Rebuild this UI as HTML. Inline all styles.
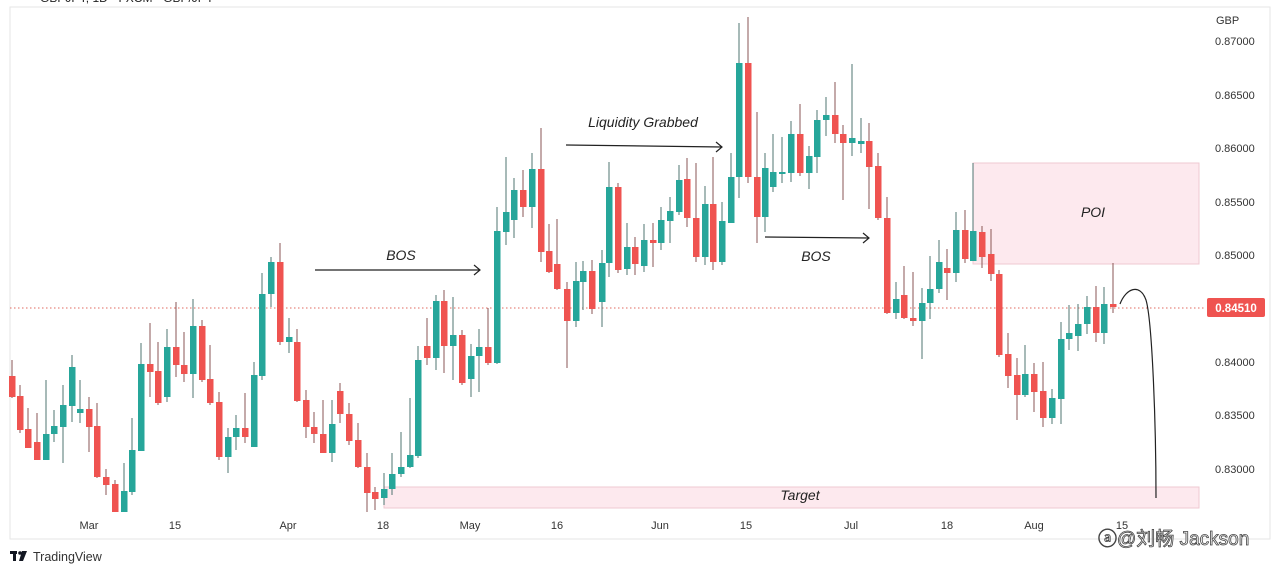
<!DOCTYPE html>
<html><head><meta charset="utf-8"><style>
html,body{margin:0;padding:0;background:#fff;width:1280px;height:575px;overflow:hidden;font-family:"Liberation Sans",sans-serif;}
svg{position:absolute;left:0;top:0}
</style></head><body>
<svg id="s" width="1280" height="575" xmlns="http://www.w3.org/2000/svg">
<rect x="10" y="7" width="1260" height="532" fill="#fff" stroke="#e6e6e6"/>
<text x="40" y="2" font-size="12" fill="#222">GBPJPY, 1D · FXCM · GBP/JPY</text>
<g font-size="11" fill="#333" font-family="Liberation Sans, sans-serif">
<text x="1216" y="24">GBP</text>
<text x="1215" y="45">0.87000</text>
<text x="1215" y="99">0.86500</text>
<text x="1215" y="152">0.86000</text>
<text x="1215" y="206">0.85500</text>
<text x="1215" y="259">0.85000</text>
<text x="1215" y="366">0.84000</text>
<text x="1215" y="419">0.83500</text>
<text x="1215" y="473">0.83000</text>
</g>
<g font-size="11" fill="#333" text-anchor="middle">
<text x="89" y="529">Mar</text><text x="175" y="529">15</text><text x="288" y="529">Apr</text>
<text x="383" y="529">18</text><text x="470" y="529">May</text><text x="557" y="529">16</text>
<text x="660" y="529">Jun</text><text x="746" y="529">15</text><text x="851" y="529">Jul</text>
<text x="947" y="529">18</text><text x="1034" y="529">Aug</text><text x="1122" y="529">15</text>
</g>
<rect x="973" y="163" width="226" height="101" fill="#fde9ee" stroke="#efc9d2"/>
<rect x="384" y="487" width="815" height="21" fill="#fde9ee" stroke="#efc9d2"/>
<line x1="10" y1="308" x2="1205" y2="308" stroke="#e0695f" stroke-width="1" stroke-dasharray="1.5,2.5"/>
<g id="c"></g>
<rect x="1207" y="298" width="58" height="19" rx="2" fill="#ef5350"/>
<text x="1236" y="312" font-size="11.5" fill="#fff" text-anchor="middle" font-weight="bold">0.84510</text>
<g font-size="14" font-style="italic" fill="#222" text-anchor="middle">
<text x="401" y="260">BOS</text>
<text x="643" y="127">Liquidity Grabbed</text>
<text x="816" y="261">BOS</text>
<text x="1093" y="217">POI</text>
<text x="800" y="500">Target</text>
</g>
<g stroke="#222" stroke-width="1.2" fill="none">
<line x1="315" y1="270" x2="480" y2="270"/><polyline points="474,265 480,270 474,275"/>
<line x1="566" y1="145" x2="722" y2="147"/><polyline points="716,142 722,147 716,152"/>
<line x1="765" y1="237" x2="869" y2="238"/><polyline points="863,233 869,238 863,243"/>
<path d="M1120,304 C1126,288 1140,283 1146,300 C1152,320 1156,420 1156,498"/>
</g>
<g transform="translate(10,551)" fill="#131722"><rect x="0" y="0" width="7" height="3"/><rect x="3" y="0" width="3" height="10"/><circle cx="10" cy="2" r="1.8"/><polygon points="12,0 17,0 13,10 9,10"/></g>
<text x="33" y="561" font-size="12.5" fill="#333">TradingView</text>
<text x="1098" y="545" font-size="19" fill="#fff" stroke="#444" stroke-width="0.8" font-family="Liberation Sans, Noto Sans CJK SC, sans-serif">ⓐ@刘畅 Jackson</text>
</svg>
<script>
var d=[[12,376,397,360,398,0],[20,396,430,385,433,0],[28,429,448,408,448,0],[37,442,460,413,460,0],[46,434,460,380,460,1],[54,426,434,410,442,1],[63,405,427,385,463,1],[72,367,406,355,422,1],[80,409,413,380,423,1],[89,409,427,397,452,0],[97,426,477,403,478,0],[106,477,485,469,495,0],[115,484,512,480,512,0],[124,491,512,463,512,1],[132,450,492,418,495,1],[141,364,451,343,451,1],[150,364,372,323,397,0],[158,371,403,342,405,0],[167,347,397,329,402,1],[176,347,365,302,377,0],[184,365,374,332,382,0],[193,326,374,299,398,1],[202,326,380,320,382,0],[210,379,403,345,405,0],[219,402,457,392,460,0],[228,437,457,428,473,1],[236,428,437,415,450,1],[245,428,437,393,443,0],[254,375,447,362,447,1],[262,294,376,273,380,1],[271,262,294,257,307,1],[280,262,342,243,345,0],[289,337,342,318,353,1],[297,342,401,329,402,0],[306,400,427,390,438,0],[314,427,434,412,443,0],[323,434,453,400,453,0],[332,424,453,400,462,1],[340,391,414,383,423,0],[349,414,441,403,445,0],[358,440,467,423,468,0],[367,467,493,453,512,0],[375,492,499,487,510,0],[384,489,498,473,505,1],[392,474,489,453,495,1],[401,467,474,432,477,1],[410,455,467,398,468,1],[418,360,456,346,458,1],[427,346,358,318,365,0],[436,301,358,295,370,1],[444,301,346,290,373,0],[453,335,346,297,380,1],[462,335,383,330,385,0],[471,356,379,344,397,1],[479,347,356,329,392,1],[488,347,363,308,365,0],[497,231,363,207,364,1],[506,212,232,157,245,1],[514,190,220,178,238,1],[523,190,207,170,217,0],[532,169,207,153,228,1],[541,169,252,128,262,0],[549,251,272,224,273,0],[557,264,289,219,290,0],[567,289,321,282,368,0],[576,281,321,262,327,1],[583,271,282,261,310,1],[592,271,309,260,314,0],[602,263,302,250,327,1],[609,187,263,162,277,1],[618,187,270,183,273,0],[627,247,269,223,275,1],[635,247,264,237,275,0],[644,240,266,224,272,1],[653,240,243,223,267,0],[661,220,243,207,250,1],[670,211,221,197,243,1],[679,180,212,165,215,1],[687,179,218,158,227,0],[696,218,257,163,262,0],[705,204,257,186,265,1],[713,204,262,157,270,0],[722,221,262,202,265,1],[731,177,223,153,223,1],[739,63,177,23,198,1],[748,63,177,17,183,0],[757,177,217,112,243,0],[765,168,217,153,232,1],[773,172,187,134,192,1],[782,172,174,137,183,1],[791,134,173,121,182,1],[800,134,173,104,176,0],[809,156,173,146,189,1],[817,120,157,110,173,1],[826,115,120,97,136,1],[835,115,134,82,143,0],[843,134,143,125,200,0],[852,138,143,64,156,1],[861,141,144,118,153,1],[869,141,167,123,209,0],[878,166,218,153,220,0],[887,218,313,197,314,0],[896,299,313,282,319,1],[904,295,318,266,319,0],[913,318,321,272,326,0],[922,303,321,288,359,1],[930,289,303,256,319,1],[939,262,289,240,293,1],[947,268,273,249,300,0],[956,230,273,212,282,1],[965,230,259,210,263,0],[973,231,261,163,261,1],[982,232,257,226,268,0],[991,254,274,229,281,0],[999,274,355,270,357,0],[1008,354,376,333,388,0],[1017,375,395,358,420,0],[1025,374,395,345,397,1],[1034,374,392,363,412,0],[1043,391,418,362,427,0],[1052,398,418,389,424,1],[1061,339,399,322,424,1],[1069,333,339,305,350,1],[1078,324,336,304,351,1],[1087,307,324,296,334,1],[1096,307,333,286,342,0],[1104,304,333,287,344,1],[1113,304,307,263,313,0]];
var g=document.getElementById('c'),s='';
d.forEach(function(e){var col=e[5]?'#26a69a':'#ef5350';var wc=e[5]?'#4f7470':'#8a5654';
s+='<line x1="'+e[0]+'" y1="'+e[3]+'" x2="'+e[0]+'" y2="'+e[4]+'" stroke="'+wc+'" stroke-width="1"/>';
var h=Math.max(2,e[2]-e[1]);s+='<rect x="'+(e[0]-3)+'" y="'+e[1]+'" width="6.5" height="'+h+'" fill="'+col+'"/>';});
g.innerHTML=s;
</script>
</body></html>
